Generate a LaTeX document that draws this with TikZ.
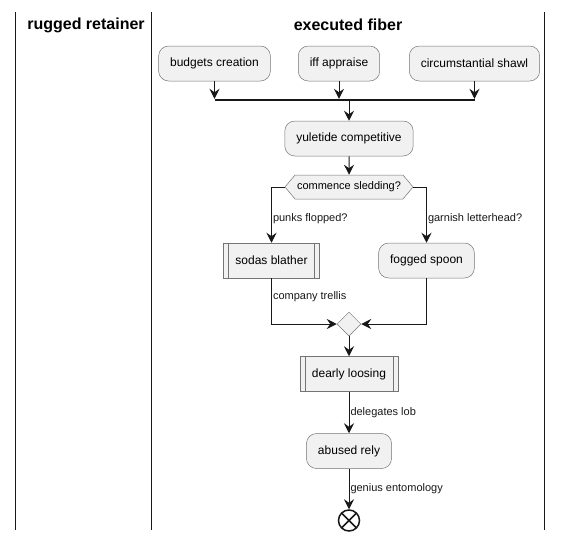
\documentclass[tikz,border=0pt]{standalone}
\usepackage{fontspec}
\setmainfont{Liberation Sans}
\usetikzlibrary{arrows.meta, positioning, shapes.geometric, shapes.symbols}
\definecolor{actfill}{HTML}{F1F1F1}
\definecolor{actline}{HTML}{181818}

\begin{document}
\begin{tikzpicture}[x=1pt, y=-1pt]
\tikzstyle{act}=[rectangle, rounded corners=10pt, fill=actfill, draw=actline!60, line width=0.5pt, minimum height=35pt, inner xsep=11.5pt, font=\fontsize{12}{14}\selectfont]
\tikzstyle{sub}=[rectangle, fill=actfill, draw=actline!60, line width=0.5pt, minimum height=35pt, inner xsep=12pt, font=\fontsize{12}{14}\selectfont,
  path picture={\draw[actline!60, line width=0.5pt] ([xshift=5pt]path picture bounding box.north west) -- ([xshift=5pt]path picture bounding box.south west)
    ([xshift=-5pt]path picture bounding box.north east) -- ([xshift=-5pt]path picture bounding box.south east);}]
\tikzstyle{dec}=[signal, signal to=west and east, signal pointer angle=100, fill=actfill, draw=actline!60, line width=0.5pt, minimum height=24pt, inner xsep=2pt, font=\fontsize{11}{13}\selectfont]
\tikzstyle{merge}=[diamond, aspect=1, fill=actfill, draw=actline!60, line width=0.5pt, minimum size=24pt, inner sep=0pt]
\tikzstyle{fin}=[circle, draw=actline, line width=1.5pt, fill=white, minimum size=21pt, inner sep=0pt,
  path picture={\draw[actline, line width=1.5pt] (path picture bounding box.north west) -- (path picture bounding box.south east)
    (path picture bounding box.north east) -- (path picture bounding box.south west);}]
\tikzstyle{fork}=[rectangle, fill=actline, minimum width=260pt, minimum height=2pt, inner sep=0pt]
\tikzstyle{title}=[font=\bfseries\fontsize{16}{18}\selectfont]
\tikzstyle{lbl}=[right, inner sep=1pt, font=\fontsize{11}{13}\selectfont]
\tikzstyle{connect}=[-{Stealth[length=10pt, width=10pt, inset=3.5pt]}, actline, line width=1pt]
\tikzstyle{lane}=[actline, line width=1.5pt]
\useasboundingbox (0,0) rectangle (562,541);
\draw[lane] (15.7,12) -- (15.7,530);
\draw[lane] (151.7,12) -- (151.7,530);
\draw[lane] (544.5,12) -- (544.5,530);
\node[title] (lt1) at (86,25) {rugged retainer};
\node[title] (lt2) at (348,25) {executed fiber};
\node[act] (bc) at (214.5,63.5) {budgets creation};
\node[act] (ia) at (339,63.5) {iff appraise};
\node[act] (cs) at (474.5,63.5) {circumstantial shawl};
\node[fork] (fk) at (344.5,100) {};
\node[act] (yc) at (349,138.5) {yuletide competitive};
\node[dec] (cd) at (349,187) {commence sledding?};
\node[sub] (sb) at (271.5,260.5) {sodas blather};
\node[act] (fs) at (426.5,260.5) {fogged spoon};
\node[merge] (mg) at (349,324) {};
\node[sub] (dl) at (349,374) {dearly loosing};
\node[act] (ar) at (349,451) {abused rely};
\node[fin] (en) at (349,520.5) {};
\draw[connect] (bc.south) -- (bc.south |- fk.north);
\draw[connect] (ia.south) -- (ia.south |- fk.north);
\draw[connect] (cs.south) -- (cs.south |- fk.north);
\draw[connect] (yc.north |- fk.south) -- (yc.north);
\draw[connect] (yc) -- (cd);
\draw[connect] (cd.west) -| node[lbl, pos=0.78] {punks flopped?} (sb.north);
\draw[connect] (cd.east) -| node[lbl, pos=0.78] {garnish letterhead?} (fs.north);
\draw[connect] (sb.south) |- node[lbl, pos=0.2] {company trellis} (mg.west);
\draw[connect] (fs.south) |- (mg.east);
\draw[connect] (mg) -- (dl);
\draw[connect] (dl) -- node[lbl] {delegates lob} (ar);
\draw[connect] (ar) -- node[lbl] {genius entomology} (en);
\end{tikzpicture}
\end{document}
